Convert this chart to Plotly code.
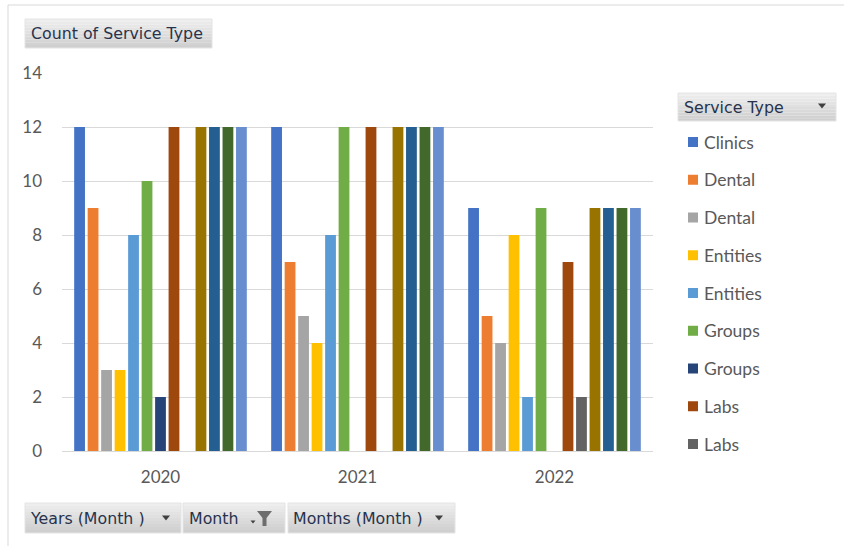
import plotly.graph_objects as go

# Pivot chart: count of service type per year
years = ["2020", "2021", "2022"]

series_names = [
    "Clinics", "Dental", "Dental", "Entities", "Entities", "Groups", "Groups",
    "Labs", "Labs", "Pharmacy", "Pharmacy", "Therapy", "Therapy",
]
series_colors = [
    "#4472C4", "#ED7D31", "#A5A5A5", "#FFC000", "#5B9BD5", "#70AD47", "#264478",
    "#9E480E", "#636363", "#997300", "#255E91", "#43682B", "#698ED0",
]
# None = no records for that year
series_values = [
    [12, 12, 9],
    [9, 7, 5],
    [3, 5, 4],
    [3, 4, 8],
    [8, 8, 2],
    [10, 12, 9],
    [2, None, None],
    [12, 12, 7],
    [None, None, 2],
    [12, 12, 9],
    [12, 12, 9],
    [12, 12, 9],
    [12, 12, 9],
]
legend_count = 9  # entries that fit in the legend box

y_ticks = [0, 2, 4, 6, 8, 10, 12, 14]

W, H = 844, 546
L, R, T, B = 62, 653, 73, 451

TEXT_FONT = "Lato"
BUTTON_FONT = "DejaVu Sans"
BUTTON_TEXT = "#27334D"


def px(x):
    return (x - L) / (R - L)


def py(y):
    return (B - y) / (B - T)


fig = go.Figure()
for name, color, vals in zip(series_names, series_colors, series_values):
    fig.add_trace(go.Bar(
        x=years, y=vals, name=name,
        marker=dict(color=color, line=dict(width=0)),
        showlegend=False,
    ))

shapes = []
annotations = []

# chart border
shapes.append(dict(type="rect", xref="paper", yref="paper",
                   x0=px(8), x1=px(860), y0=py(5), y1=py(570),
                   line=dict(color="#D9D9D9", width=1), fillcolor="rgba(0,0,0,0)", layer="below"))


def button(x0, x1, y0, y1):
    # soft vertical gradient built from thin bands
    n = 10
    top = (0xEE, 0xEE, 0xEE)
    bot = (0xCF, 0xCF, 0xCF)
    h = (y1 - y0) / n
    for k in range(n):
        t = k / (n - 1)
        c = tuple(int(top[j] + (bot[j] - top[j]) * t) for j in range(3))
        shapes.append(dict(type="rect", xref="paper", yref="paper",
                           x0=px(x0), x1=px(x1), y0=py(y0 + k * h), y1=py(y0 + (k + 1) * h),
                           line=dict(width=0), fillcolor="rgb(%d,%d,%d)" % c, layer="above"))
    shapes.append(dict(type="rect", xref="paper", yref="paper",
                       x0=px(x0), x1=px(x1), y0=py(y0), y1=py(y1),
                       line=dict(color="#E4E4E4", width=1), fillcolor="rgba(0,0,0,0)", layer="above"))


def arrow(cx, cy, w=8, h=5, color="#404040"):
    x0, x1 = px(cx - w / 2), px(cx + w / 2)
    xm = px(cx)
    ya, yb = py(cy - h / 2), py(cy + h / 2)
    shapes.append(dict(type="path", xref="paper", yref="paper",
                       path=f"M {x0} {ya} L {x1} {ya} L {xm} {yb} Z",
                       fillcolor=color, line=dict(width=0), layer="above"))


def label(x, y, text, size=15.8, family=BUTTON_FONT, color=BUTTON_TEXT):
    annotations.append(dict(xref="paper", yref="paper", x=px(x), y=py(y), text=text,
                            showarrow=False, xanchor="left", yanchor="middle",
                            xshift=-2, font=dict(family=family, size=size, color=color)))


# field buttons
button(25, 212, 19, 48)
label(31, 34, "Count of Service Type")

button(678, 836, 93, 121)
label(684, 107, "Service Type")
arrow(822, 106)

button(25, 181, 503, 533)
label(30, 518, "Years (Month )")
arrow(166, 518)

button(183, 285, 503, 533)
label(189, 518, "Month")
arrow(253, 522, w=5, h=3)
# filter funnel icon
fx = [257, 272, 266.5, 266.5, 262.5, 262.5]
fy = [511, 511, 518, 526, 526, 518]
path = "M " + " L ".join(f"{px(a)} {py(b)}" for a, b in zip(fx, fy)) + " Z"
shapes.append(dict(type="path", xref="paper", yref="paper", path=path,
                   fillcolor="#6E6E6E", line=dict(width=0), layer="above"))

button(288, 455, 503, 533)
label(293, 518, "Months (Month )")
arrow(439, 518)

# legend entries (first ones that fit below the field button)
row0, row_step = 141, 37.75
for i in range(legend_count):
    cy = row0 + i * row_step
    shapes.append(dict(type="rect", xref="paper", yref="paper",
                       x0=px(688), x1=px(698), y0=py(cy - 4), y1=py(cy + 6),
                       line=dict(width=0), fillcolor=series_colors[i], layer="above"))
    annotations.append(dict(xref="paper", yref="paper", x=px(704), y=py(cy + 1),
                            text=series_names[i], showarrow=False,
                            xanchor="left", yanchor="middle", xshift=-2,
                            font=dict(family=TEXT_FONT, size=17.5, color="#595959")))

fig.update_layout(
    width=W, height=H,
    margin=dict(l=L, r=W - R, t=T, b=H - B),
    paper_bgcolor="white", plot_bgcolor="white",
    barmode="group", bargap=0.11, bargroupgap=0.2,
    showlegend=False,
    font=dict(family=TEXT_FONT, color="#595959", size=17),
    xaxis=dict(showgrid=False, showline=True, linecolor="#D9D9D9", linewidth=1,
               ticks="", tickfont=dict(size=17, color="#595959"), ticklabelstandoff=11),
    yaxis=dict(range=[0, 14], tickvals=y_ticks, showgrid=True, gridcolor="#D9D9D9",
               gridwidth=1, zeroline=False, showline=False, ticks="",
               tickfont=dict(size=17, color="#595959"), ticklabelstandoff=19),
    shapes=shapes, annotations=annotations,
)

fig.write_html("out.html")
